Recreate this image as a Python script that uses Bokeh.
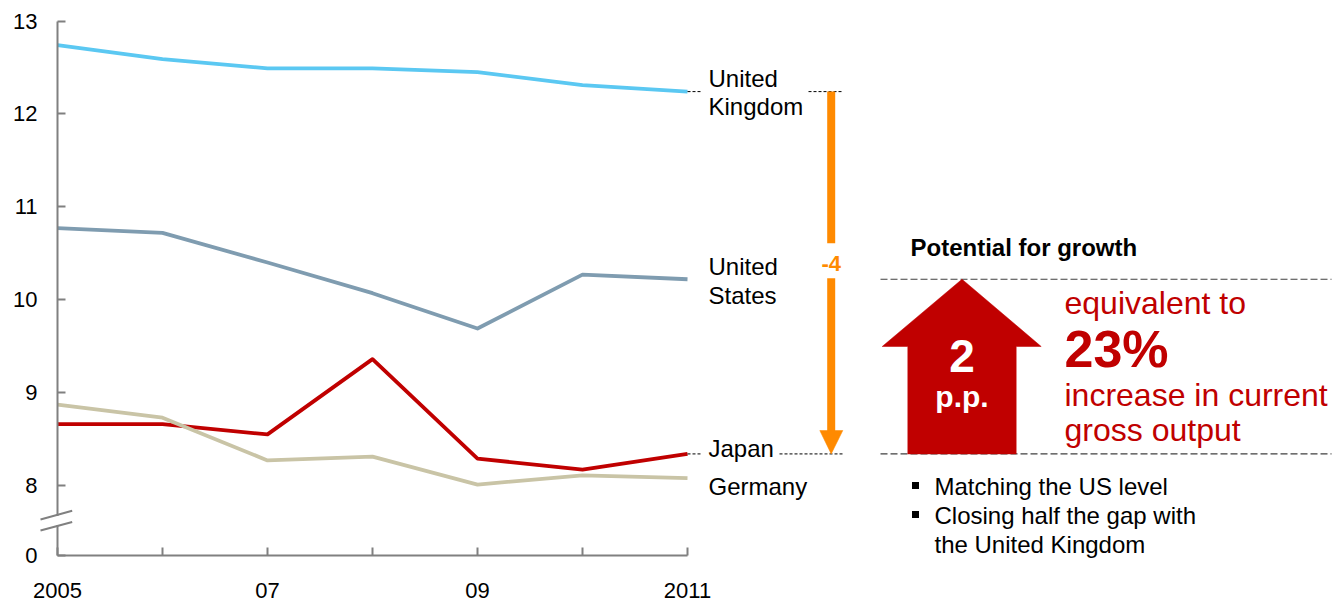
from bokeh.plotting import figure
from bokeh.models import Range1d, FixedTicker, PolyAnnotation
from bokeh.embed import file_html
from bokeh.resources import INLINE
from bokeh.core.properties import value

# ---------------- data ----------------
years = [2005, 2006, 2007, 2008, 2009, 2010, 2011]
uk = [12.74, 12.59, 12.49, 12.49, 12.45, 12.31, 12.24]
us = [10.77, 10.72, 10.40, 10.07, 9.69, 10.27, 10.22]
japan = [8.66, 8.66, 8.55, 9.36, 8.29, 8.17, 8.34]
germany = [8.87, 8.73, 8.27, 8.31, 8.01, 8.11, 8.08]

series_names = ["United Kingdom", "United States", "Japan", "Germany"]
series_colors = ["#5BC8F2", "#7F9CB0", "#C00000", "#C9C4A6"]

x_tick_years = [2005, 2006, 2007, 2008, 2009, 2010, 2011]
x_tick_labels = ["2005", "", "07", "", "09", "", "2011"]
y_ticks = [8, 9, 10, 11, 12, 13]
Y_ZERO = 7.25          # position of the "0" tick below the axis break
gap_label = "-4"
growth_title = "Potential for growth"
growth_value = ["2", "p.p."]
growth_text = ["equivalent to", "23%", "increase in current", "gross output"]
bullets = ["Matching the US level", "Closing half the gap with"]
bullet_cont = "the United Kingdom"

FONT = value("Liberation Sans")

# page-pixel helpers (page coords -> data coords)
def X(px):
    return 2005 + (px - 57) / 105.0

def Y(py):
    return 8 + (485 - py) / 92.9

W, H = 1340, 606
p = figure(width=W, height=H, output_backend="svg", toolbar_location=None,
           x_range=Range1d(X(0), X(W)), y_range=Range1d(Y(H), Y(0)),
           min_border_left=0, min_border_right=0, min_border_top=0,
           min_border_bottom=0)
p.outline_line_color = None
p.grid.visible = False
p.background_fill_color = "white"
p.border_fill_color = "white"

# axes
axis_col = "#808080"
for ax in (p.xaxis[0], p.yaxis[0]):
    ax.axis_line_color = axis_col
    ax.axis_line_width = 2
    ax.major_tick_line_color = axis_col
    ax.major_tick_line_width = 2
    ax.major_tick_in = 8
    ax.major_tick_out = 0
    ax.minor_tick_line_color = None
    ax.major_label_text_font = "Liberation Sans"
    ax.major_label_text_font_size = "22px"
    ax.major_label_text_color = "black"

p.xaxis.ticker = FixedTicker(ticks=x_tick_years)
p.xaxis.major_label_overrides = {y: l for y, l in zip(x_tick_years, x_tick_labels)}
p.xaxis.bounds = (2005, 2011)
p.xaxis.fixed_location = Y_ZERO
p.xaxis.major_label_standoff = 28

p.yaxis.ticker = FixedTicker(ticks=[Y_ZERO] + y_ticks)
p.yaxis.major_label_overrides = {Y_ZERO: "0"}
p.yaxis.bounds = (Y_ZERO, 13)
p.yaxis.fixed_location = 2005
p.yaxis.major_label_standoff = 20

# axis break
p.add_layout(PolyAnnotation(xs=[X(51), X(63), X(63), X(51)],
                            ys=[Y(524.5), Y(524.5), Y(515.5), Y(515.5)],
                            fill_color="white", fill_alpha=1.0,
                            line_color=None, level="overlay"))
for (x0, y0, x1, y1) in [(40, 519, 71.7, 510.3), (40, 530, 71.7, 521.5)]:
    p.add_layout(PolyAnnotation(xs=[X(x0), X(x1)], ys=[Y(y0), Y(y1)],
                                fill_color=None, line_color=axis_col,
                                line_alpha=1.0, line_width=2, level="overlay"))

# series
for vals, col in zip([uk, us, japan, germany], series_colors):
    p.line(years, vals, line_color=col, line_width=3.8, line_join="round")

# series labels
lab_x = X(708)
lab_txt = ["United", "Kingdom", "United", "States", "Japan", "Germany"]
lab_y = [Y(78), Y(106), Y(266), Y(295), Y(448), Y(486)]
p.text([lab_x] * len(lab_txt), lab_y, text=lab_txt, text_font=FONT,
       text_font_size="24px", text_color="black", text_baseline="middle",
       text_align="left")

# leader lines
lead_x0 = [years[-1], X(808), years[-1], X(779)]
lead_x1 = [X(701), X(842), X(701), X(843)]
lead_y = [uk[-1], uk[-1], japan[-1], japan[-1]]
p.segment(lead_x0, lead_y, lead_x1, lead_y, line_color="black", line_width=1,
          line_dash="3 2")

# orange gap arrow
ox = X(830.7)
orange = "#FF8A00"
p.segment([ox, ox], [uk[-1], Y(277.7)], [ox, ox], [Y(242.7), Y(431)],
          line_color=orange, line_width=8, line_cap="butt")
p.patch([X(819.3), X(842.3), ox], [Y(430), Y(430), japan[-1]],
        fill_color=orange, line_color=orange, line_width=0.5)
p.text([ox], [Y(262.5)], text=[gap_label], text_font=FONT, text_font_style="bold",
       text_font_size="22px", text_color=orange, text_align="center",
       text_baseline="middle")

# right panel
p.text([X(910)], [Y(247)], text=[growth_title], text_font=FONT,
       text_font_style="bold", text_font_size="24px", text_color="black",
       text_baseline="middle")
p.segment([X(880), X(880)], [us[-1], japan[-1]], [X(1331), X(1331)],
          [us[-1], japan[-1]], line_color="#404040", line_width=1.2,
          line_dash="7 3")
red = "#C00000"
hb = Y(346)
p.patch([X(907.3), X(1015.7), X(1015.7), X(1040.7), X(961.5), X(881.7), X(907.3)],
        [japan[-1], japan[-1], hb, hb, us[-1], hb, hb],
        fill_color=red, line_color=red, line_width=0.5)
p.text([X(961.5)], [Y(355)], text=[growth_value[0]], text_font=FONT,
       text_font_style="bold", text_font_size="46px", text_color="white",
       text_align="center", text_baseline="middle")
p.text([X(961.5)], [Y(396)], text=[growth_value[1]], text_font=FONT,
       text_font_style="bold", text_font_size="30px", text_color="white",
       text_align="center", text_baseline="middle")

tx = X(1064)
p.text([tx, tx, tx], [Y(302), Y(394), Y(429)],
       text=[growth_text[0], growth_text[2], growth_text[3]],
       text_font=FONT, text_font_size="32px", text_color=red,
       text_baseline="middle")
p.text([tx], [Y(348)], text=[growth_text[1]], text_font=FONT,
       text_font_style="bold", text_font_size="52px", text_color=red,
       text_baseline="middle")

p.scatter([X(915), X(915)], [Y(485), Y(514)], marker="square", size=7,
          fill_color="black", line_color=None)
p.text([X(934)] * 3, [Y(486), Y(515), Y(544)],
       text=bullets + [bullet_cont], text_font=FONT, text_font_size="24px",
       text_color="black", text_baseline="middle")

open("out.html", "w").write(file_html(p, INLINE))
